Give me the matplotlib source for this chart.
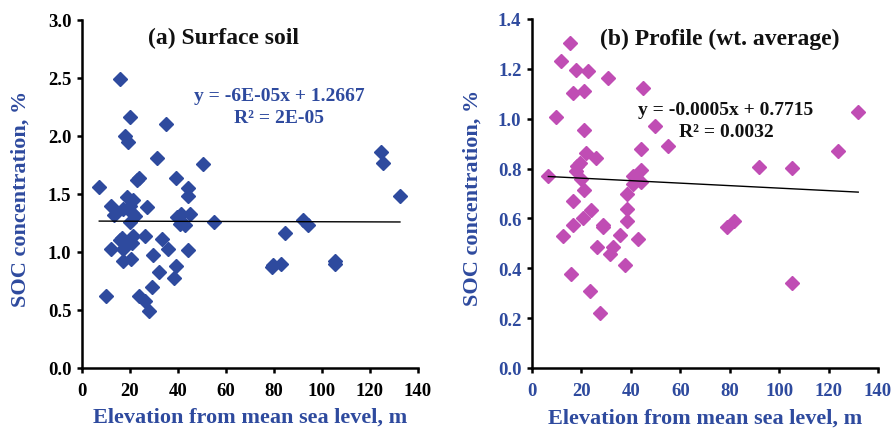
import matplotlib
matplotlib.use("Agg")
import matplotlib.pyplot as plt

plt.rcParams['font.family'] = ['Liberation Serif', 'DejaVu Serif']
plt.rcParams['font.weight'] = 'bold'

# (a) Surface soil
elev_a = [15.8, 20.0, 35.0, 17.9, 19.0, 31.1, 50.3, 124.4, 125.3, 23.9, 23.0, 39.2, 44.0, 7.2,
          132.5, 44.0, 12.0, 13.3, 18.6, 21.4, 17.2, 19.9, 20.7, 22.1, 20.0, 27.2, 39.4, 41.4,
          40.7, 43.1, 45.1, 55.1, 92.2, 94.2, 84.6, 16.8, 15.8, 21.4, 26.3, 33.2, 20.7, 12.0,
          17.2, 36.0, 44.3, 16.9, 20.3, 29.4, 39.2, 32.2, 38.2, 79.4, 79.0, 82.8, 105.4, 105.4,
          10.0, 23.9, 26.3, 29.0, 28.0]
soc_a = [2.49, 2.16, 2.10, 2.00, 1.95, 1.81, 1.76, 1.86, 1.77, 1.64, 1.62, 1.64, 1.55, 1.56,
         1.48, 1.48, 1.40, 1.32, 1.47, 1.45, 1.37, 1.40, 1.34, 1.31, 1.26, 1.385, 1.30, 1.33,
         1.24, 1.23, 1.33, 1.26, 1.28, 1.23, 1.16, 1.12, 1.10, 1.14, 1.14, 1.11, 1.08, 1.03,
         1.03, 1.03, 1.02, 0.92, 0.94, 0.97, 0.88, 0.83, 0.78, 0.89, 0.87, 0.90, 0.925, 0.90,
         0.62, 0.62, 0.58, 0.70, 0.49]

# (b) Profile (wt. average)
elev_b = [15.4, 11.6, 17.8, 22.8, 30.6, 16.5, 21.0, 44.8, 9.7, 132.0, 49.8, 21.0, 55.2, 44.0,
          124.0, 21.9, 25.9, 19.4, 18.3, 92.0, 105.1, 44.0, 17.8, 6.6, 19.7, 41.0, 44.3, 40.7,
          21.0, 38.6, 16.5, 23.7, 38.6, 20.8, 16.5, 38.6, 28.6, 28.8, 35.6, 12.7, 42.8, 26.4,
          32.9, 31.6, 37.6, 15.7, 23.5, 27.5, 78.8, 81.9, 105.1]
soc_b = [1.302, 1.233, 1.197, 1.193, 1.163, 1.102, 1.112, 1.122, 1.006, 1.028, 0.970, 0.956,
         0.892, 0.878, 0.869, 0.862, 0.841, 0.822, 0.811, 0.805, 0.801, 0.795, 0.790, 0.769,
         0.758, 0.769, 0.747, 0.738, 0.715, 0.698, 0.670, 0.635, 0.638, 0.600, 0.574, 0.591,
         0.574, 0.565, 0.533, 0.528, 0.517, 0.484, 0.484, 0.457, 0.413, 0.377, 0.310, 0.220,
         0.564, 0.591, 0.341]

slope_a, icpt_a = -6e-05, 1.2667
slope_b, icpt_b = -0.0005, 0.7715

BLUE = '#2E4A9E'
MAG = '#C04DB4'

fig = plt.figure(figsize=(8.94, 4.31), dpi=100)
axa = fig.add_axes([0.0917, 0.1439, 0.3758, 0.8074])
axb = fig.add_axes([0.5951, 0.1439, 0.3870, 0.8097])

def style(ax, tickcolor, ylab_x):
    for s in ['top', 'right']:
        ax.spines[s].set_visible(False)
    for s in ['left', 'bottom']:
        ax.spines[s].set_linewidth(1.8)
    ax.tick_params(direction='out', length=3.6, width=1.8, labelsize=13.5,
                   labelcolor=tickcolor)
    ax.tick_params(axis='x', pad=6.5)
    ax.tick_params(axis='y', pad=4)
    for lab in ax.get_xticklabels() + ax.get_yticklabels():
        lab.set_fontweight('bold')
    ax.set_xlim(0, 140)
    ax.set_xticks(range(0, 141, 20))
    ax.set_xlabel('Elevation from mean sea level, m', color=BLUE, fontsize=16,
                  fontweight='bold', va='center')
    ax.xaxis.set_label_coords(0.5, -0.141)
    ax.set_ylabel('SOC concentration, %', color=BLUE, fontsize=16,
                  fontweight='bold', va='center')
    ax.yaxis.set_label_coords(ylab_x, 0.49)

# Panel a
axa.plot(elev_a, soc_a, linestyle='none', marker='D', ms=7, color=BLUE, mec=BLUE)
xa = [min(elev_a), max(elev_a)]
axa.plot(xa, [slope_a * v + icpt_a for v in xa], color='black', lw=1)
axa.set_ylim(0, 3.0)
ya = [0, 0.5, 1.0, 1.5, 2.0, 2.5, 3.0]
axa.set_yticks(ya)
axa.set_yticklabels([f'{v:.1f}' for v in ya])
style(axa, 'black', -0.1815)
axa.text(0.42, 0.951, '(a) Surface soil', transform=axa.transAxes, ha='center', va='center',
         fontsize=17, fontweight='bold', color='#111111')
axa.text(0.586, 0.784, 'y = -6E-05x + 1.2667', transform=axa.transAxes, ha='center',
         va='center', fontsize=14, fontweight='bold', color=BLUE)
axa.text(0.586, 0.721, 'R² = 2E-05', transform=axa.transAxes, ha='center',
         va='center', fontsize=14, fontweight='bold', color=BLUE)

# Panel b
axb.plot(elev_b, soc_b, linestyle='none', marker='D', ms=7, color=MAG, mec=MAG)
xb = [min(elev_b), max(elev_b)]
axb.plot(xb, [slope_b * v + icpt_b for v in xb], color='black', lw=1)
axb.set_ylim(0, 1.4)
yt = [0, 0.2, 0.4, 0.6, 0.8, 1.0, 1.2, 1.4]
axb.set_yticks(yt)
axb.set_yticklabels([f'{v:.1f}' for v in yt])
style(axb, BLUE, -0.173)
axb.text(0.543, 0.943, '(b) Profile (wt. average)', transform=axb.transAxes, ha='center',
         va='center', fontsize=17, fontweight='bold', color='#111111')
axb.text(0.561, 0.742, 'y = -0.0005x + 0.7715', transform=axb.transAxes, ha='center',
         va='center', fontsize=14, fontweight='bold', color='#111111')
axb.text(0.561, 0.679, 'R² = 0.0032', transform=axb.transAxes, ha='center',
         va='center', fontsize=14, fontweight='bold', color='#111111')

fig.savefig('out.png', dpi=100)
